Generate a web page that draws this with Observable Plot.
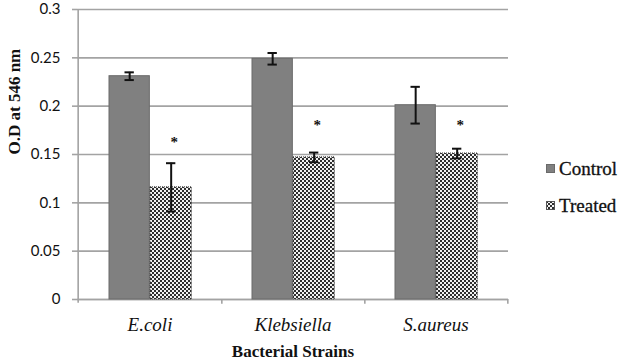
<!DOCTYPE html>
<html><head><meta charset="utf-8">
<script src="https://cdn.jsdelivr.net/npm/d3@7"></script>
<script src="https://cdn.jsdelivr.net/npm/@observablehq/plot@0.6"></script>
<style>
body{margin:0;background:#fff}
#wrap{position:relative;width:623px;height:362px}
.leg{position:absolute;left:546px;font-family:"Liberation Serif",serif;font-size:19px;color:#111;display:flex;align-items:center;line-height:19px;-webkit-text-stroke:0.3px #111}
.leg svg{margin-right:4px;display:block}
</style></head><body><div id="wrap"></div>
<script>
const strains = ["E.coli", "Klebsiella", "S.aureus"];
const seriesNames = ["Control", "Treated"];
const controlValues = [0.231, 0.249, 0.201];
const controlErrors = [0.004, 0.006, 0.019];
const treatedValues = [0.116, 0.147, 0.151];
const treatedErrors = [0.025, 0.005, 0.005];
const starY = [0.168, 0.186, 0.186];
const yTicks = [0, 0.05, 0.1, 0.15, 0.2, 0.25, 0.3];
const yTickLabels = ["0", "0.05", "0.1", "0.15", "0.2", "0.25", "0.3"];
const yLabel = "O.D at 546 nm";
const xLabel = "Bacterial Strains";

const control = strains.map((s, i) => ({strain: s, value: controlValues[i], err: controlErrors[i]}));
const treated = strains.map((s, i) => ({strain: s, value: treatedValues[i], err: treatedErrors[i], star: starY[i]}));

const W = 623, H = 362, ML = 77, MR = 115, MT = 9, MB = 63;
const bw = (W - ML - MR) / strains.length;
const cL = 31, cR = 72, tL = 72, tR = 114;
const cDx = (cL + cR) / 2 - bw / 2, tDx = (tL + tR) / 2 - bw / 2;
const gray = "#a3a3a3";
const serif = "Liberation Serif";
const controlFill = "#808080", treatedFill = "url(#checker)";

const svg = Plot.plot({
  width: W, height: H,
  marginLeft: ML, marginRight: MR, marginTop: MT, marginBottom: MB,
  style: {background: "#fff", color: "#111", overflow: "visible"},
  x: {type: "band", domain: strains, padding: 0, label: null},
  y: {domain: [0, 0.3], label: null},
  marks: [
    Plot.gridY(yTicks, {stroke: gray, strokeOpacity: 1, strokeWidth: 1.6}),
    Plot.axisY(yTicks, {tickSize: 5, tickPadding: 12, stroke: gray, strokeWidth: 1.6, fontSize: 15, fontFamily: "Lato", tickFormat: d => yTickLabels[yTicks.indexOf(d)], label: null}),
    Plot.ruleX([strains[0]], {dx: -bw / 2, y1: -0.004, y2: 0.3, stroke: gray, strokeWidth: 1.6}),
    Plot.ruleY([0], {stroke: gray, strokeWidth: 1.6}),
    Plot.ruleX(strains, {dx: bw / 2, y1: 0, y2: -0.005, stroke: gray, strokeWidth: 1.6}),
    Plot.barY(control, {x: "strain", y: "value", insetLeft: cL, insetRight: bw - cR, fill: controlFill, stroke: "#6a6a6a", strokeWidth: 1}),
    Plot.barY(treated, {x: "strain", y: "value", insetLeft: tL, insetRight: bw - tR, fill: treatedFill, stroke: "#333", strokeWidth: 1, strokeDasharray: "1,1"}),
    Plot.ruleX(control, {x: "strain", y1: d => d.value - d.err, y2: d => d.value + d.err, dx: cDx, stroke: "#111", strokeWidth: 2}),
    Plot.tickY(control, {x: "strain", y: d => d.value + d.err, dx: cDx, insetLeft: bw / 2 - 5, insetRight: bw / 2 - 5, stroke: "#111", strokeWidth: 2}),
    Plot.tickY(control, {x: "strain", y: d => d.value - d.err, dx: cDx, insetLeft: bw / 2 - 5, insetRight: bw / 2 - 5, stroke: "#111", strokeWidth: 2}),
    Plot.ruleX(treated, {x: "strain", y1: d => d.value - d.err, y2: d => d.value + d.err, dx: tDx, stroke: "#111", strokeWidth: 2}),
    Plot.tickY(treated, {x: "strain", y: d => d.value + d.err, dx: tDx, insetLeft: bw / 2 - 5, insetRight: bw / 2 - 5, stroke: "#111", strokeWidth: 2}),
    Plot.tickY(treated, {x: "strain", y: d => d.value - d.err, dx: tDx, insetLeft: bw / 2 - 5, insetRight: bw / 2 - 5, stroke: "#111", strokeWidth: 2}),
    Plot.text(treated, {x: "strain", y: "star", text: () => "*", dx: tDx + 3, dy: 5, fontSize: 15, fontFamily: serif, fontWeight: "bold", fill: "#111"}),
    Plot.axisX({tickSize: 0, tickPadding: 18, fontSize: 19, fontStyle: "italic", fontFamily: serif, label: null}),
    Plot.text([xLabel], {frameAnchor: "bottom", dy: 57, fontSize: 17, fontWeight: "bold", fontFamily: serif, fill: "#111"}),
    Plot.text([yLabel], {frameAnchor: "left", dx: -63, rotate: -90, fontSize: 17, fontWeight: "bold", fontFamily: serif, fill: "#111"})
  ]
});

function addChecker(node, size) {
  const defs = d3.select(node).insert("defs", ":first-child");
  const pat = defs.append("pattern").attr("id", "checker").attr("patternUnits", "userSpaceOnUse").attr("width", size * 2).attr("height", size * 2);
  pat.append("rect").attr("width", size * 2).attr("height", size * 2).attr("fill", "#f2f2f2");
  pat.append("rect").attr("width", size).attr("height", size).attr("fill", "#2e2e2e");
  pat.append("rect").attr("x", size).attr("y", size).attr("width", size).attr("height", size).attr("fill", "#2e2e2e");
}
addChecker(svg, 2);

const wrap = document.getElementById("wrap");
wrap.appendChild(svg);
const legendRows = [
  {name: seriesNames[0], top: 159, fill: controlFill, stroke: "#6a6a6a"},
  {name: seriesNames[1], top: 196, fill: treatedFill, stroke: "#555"}
];
for (const r of legendRows) {
  const d = document.createElement("div");
  d.className = "leg";
  d.style.top = r.top + "px";
  const sw = d3.create("svg").attr("width", 9).attr("height", 9);
  sw.append("rect").attr("x", 0.5).attr("y", 0.5).attr("width", 8).attr("height", 8).attr("fill", r.fill).attr("stroke", r.stroke);
  d.appendChild(sw.node());
  const t = document.createElement("span");
  t.textContent = r.name;
  d.appendChild(t);
  wrap.appendChild(d);
}
</script>
</body></html>
